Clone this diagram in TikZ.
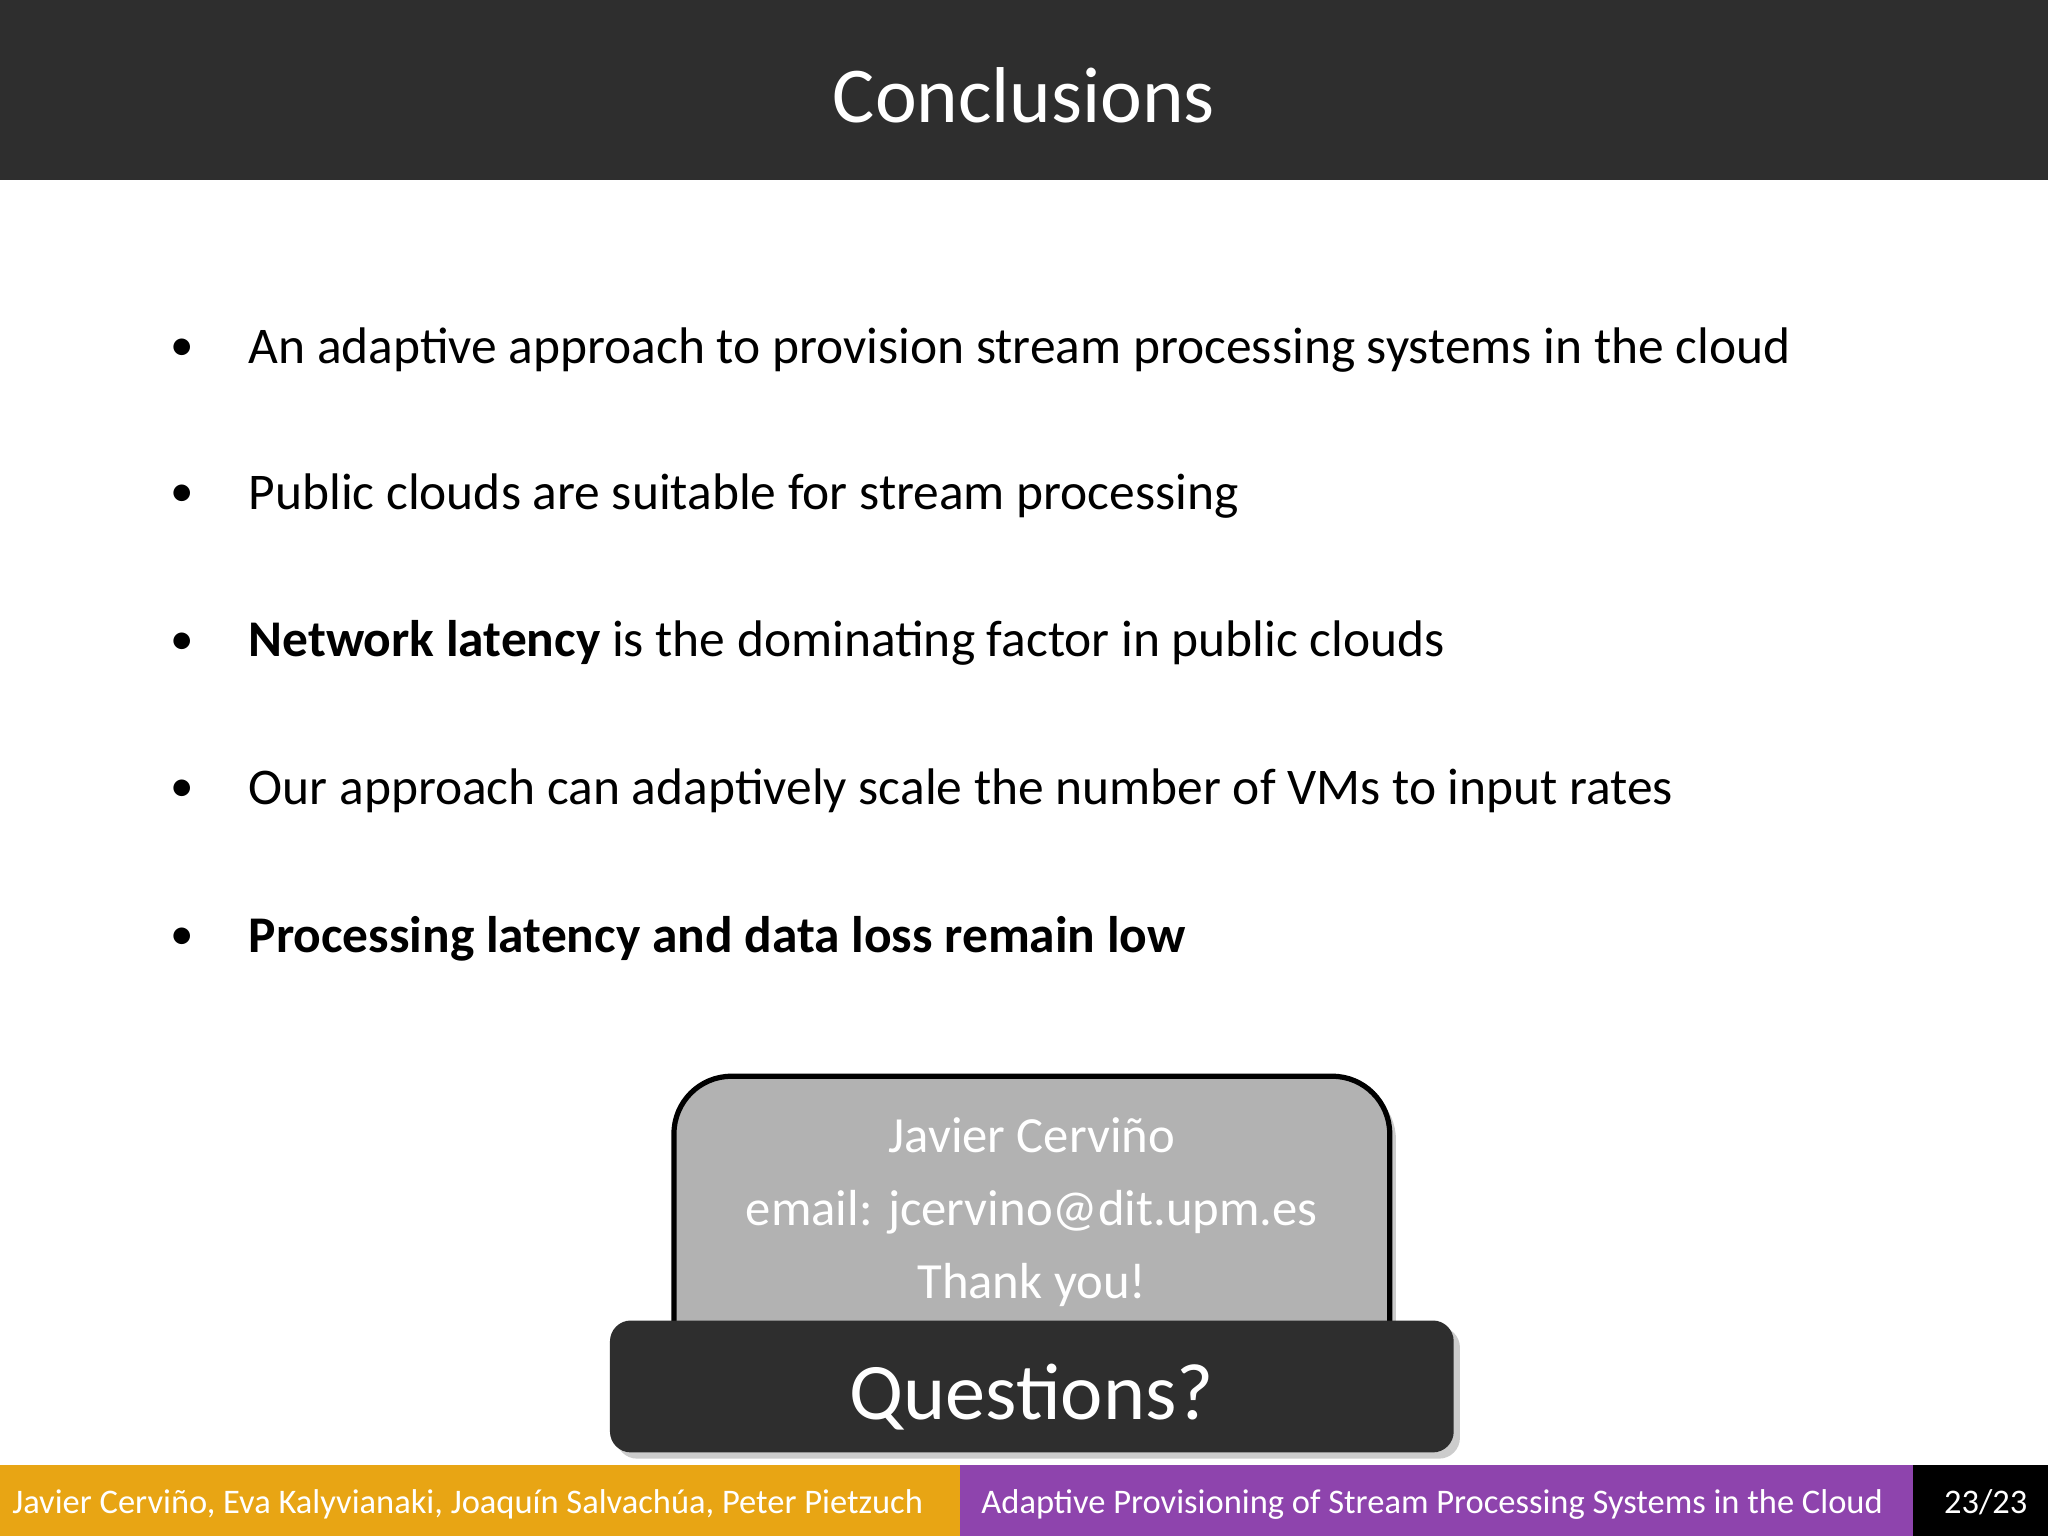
\documentclass[tikz,border=0pt]{standalone}
\usepackage{fontspec}
\setmainfont{Carlito}
\usetikzlibrary{shadows}
\tikzset{bul/.style={anchor=base west,font=\fontsize{19.7}{22}\selectfont,text=black,inner sep=0},
foot/.style={font=\fontsize{13.2}{15}\selectfont,text=white,anchor=base west,inner sep=0},
boxt/.style={font=\fontsize{19.4}{21}\selectfont,text=white,anchor=base}}
\begin{document}
\begin{tikzpicture}[x=0.5pt,y=-0.5pt]
\useasboundingbox (0,0) rectangle (1568,1176);
\fill[white] (0,0) rectangle (1568,1176);
\fill[black!82] (0,0) rectangle (1568,138);
\node[font=\fontsize{30.3}{33}\selectfont,text=white,anchor=base] (title) at (784,94) {Conclusions};
\foreach \y/\t [count=\i] in {278/{An adaptive approach to provision stream processing systems in the cloud},
390/{Public clouds are suitable for stream processing},
503/{\textbf{Network latency} is the dominating factor in public clouds},
616/{Our approach can adaptively scale the number of VMs to input rates},
729/{\textbf{Processing latency and data loss remain low}}}{
\node[bul,font=\fontsize{18}{20}\selectfont] (d\i) at (130,\y-2) {\textbullet};
\node[bul] (b\i) at (190,\y) {\t};}
\draw[line width=2pt,fill=black!30,rounded corners=22pt,drop shadow={opacity=0.4}] (516,1030) -- (516,824) -- (1064,824) -- (1064,1030);
\node[boxt] (n1) at (790,882) {Javier Cerviño};
\node[boxt] (n2) at (790,938) {email: jcervino@dit.upm.es};
\node[boxt] (n3) at (790,994) {Thank you!};
\fill[black!82,rounded corners=8pt,drop shadow={opacity=0.4}] (467,1011) rectangle (1113,1112);
\node[font=\fontsize{30.7}{33}\selectfont,text=white,anchor=base] (q) at (790,1087) {Questions?};
\fill[color={rgb,255:red,142;green,68;blue,173}] (735,1122) rectangle (1465,1176);
\fill[color={rgb,255:red,232;green,165;blue,20}] (0,1122) rectangle (735,1176);
\fill[black] (1465,1122) rectangle (1568,1176);
\node[foot] (f1) at (9,1159) {Javier Cerviño, Eva Kalyvianaki, Joaquín Salvachúa, Peter Pietzuch};
\node[foot] (f2) at (751,1159) {Adaptive Provisioning of Stream Processing Systems in the Cloud};
\node[foot] (f3) at (1488,1159) {23/23};
\end{tikzpicture}
\end{document}
